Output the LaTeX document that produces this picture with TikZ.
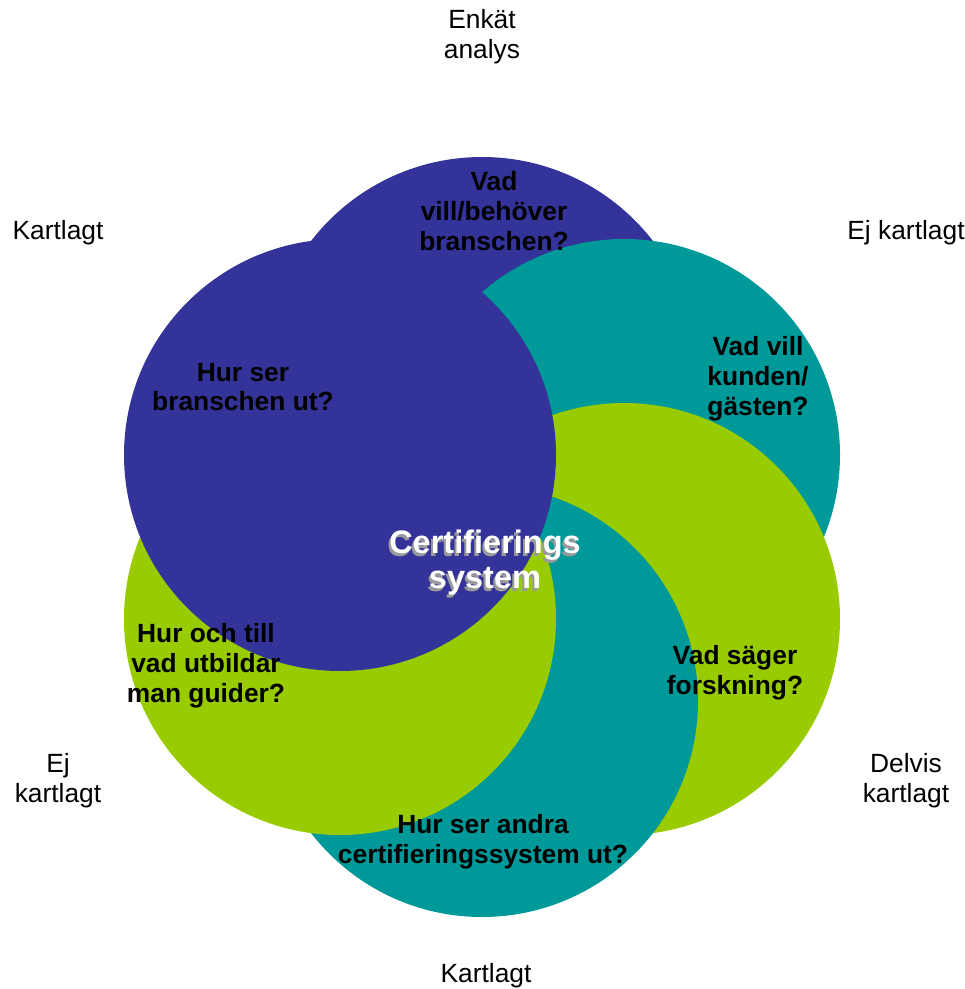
\documentclass[tikz,border=0pt]{standalone}
\usepackage{fontspec}
\setmainfont{Liberation Sans}
\definecolor{sysblue}{HTML}{333399}
\definecolor{systeal}{HTML}{009999}
\definecolor{sysgreen}{HTML}{99CC00}
\definecolor{shadowgray}{HTML}{9A9A9A}
\begin{document}
\begin{tikzpicture}
        \tikzstyle{petal} = [circle, minimum size=8.64cm, inner sep=0pt]
        \tikzstyle{qtext} = [font=\fontsize{15}{17}\selectfont\bfseries, align=center, inner sep=0pt]
        \tikzstyle{side} = [font=\fontsize{15}{17}\selectfont, align=center, inner sep=0pt]
        \tikzstyle{hub} = [font=\fontsize{18.5}{20}\selectfont\bfseries, align=center, inner sep=0pt]
        \useasboundingbox (0,0) rectangle (19.28,-19.78);

        % circles, bottom one first
        \node[petal, fill=sysblue] (c1) at (9.64,-7.46) {};
        \node[petal, fill=systeal] (c2) at (12.48,-9.10) {};
        \node[petal, fill=sysgreen] (c3) at (12.48,-12.38) {};
        \node[petal, fill=systeal] (c4) at (9.64,-14.02) {};
        \node[petal, fill=sysgreen] (c5) at (6.80,-12.38) {};
        \node[petal, fill=sysblue] (c6) at (6.80,-9.10) {};

        \node[qtext] (q1) at (9.88,-4.22) {Vad\\vill/behöver\\branschen?};
        \node[qtext] (q2) at (15.16,-7.58) {Vad vill\\kunden/\\gästen?};
        \node[qtext] (q3) at (14.70,-13.46) {Vad säger\\forskning?};
        \node[qtext] (q4) at (9.66,-16.84) {Hur ser andra\\certifieringssystem ut?};
        \node[qtext] (q5) at (4.12,-13.32) {Hur och till\\vad utbildar\\man guider?};
        \node[qtext] (q6) at (4.86,-7.74) {Hur ser\\branschen ut?};

        \node[hub, text=shadowgray] (hubshadow) at (9.66,-11.31) {Certifierings\\system};
        \node[hub, text=white] (hub) at (9.70,-11.26) {Certifierings\\system};

        \node[side] (s1) at (9.64,-0.74) {Enkät\\analys};
        \node[side] (s2) at (18.12,-4.66) {Ej kartlagt};
        \node[side] (s3) at (18.12,-15.62) {Delvis\\kartlagt};
        \node[side] (s4) at (9.72,-19.52) {Kartlagt};
        \node[side] (s5) at (1.16,-15.62) {Ej\\kartlagt};
        \node[side] (s6) at (1.16,-4.66) {Kartlagt};
      \end{tikzpicture}
\end{document}
